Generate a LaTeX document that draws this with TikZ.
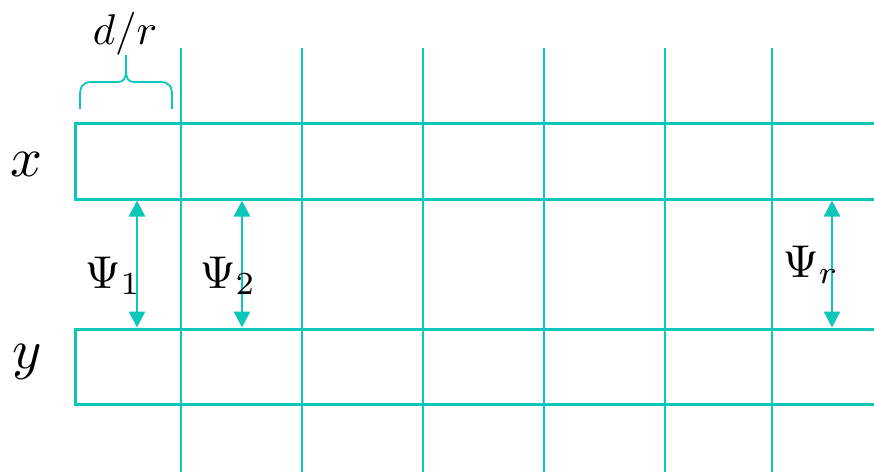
\documentclass[tikz,border=0pt]{standalone}
\usepackage{amsmath}
\usetikzlibrary{arrows.meta}
\definecolor{tealc}{RGB}{14,199,187}
\begin{document}
\begin{tikzpicture}[x=1pt,y=-1pt,
  band/.style={draw=tealc,line width=3pt,line join=miter},
  grid/.style={draw=tealc,line width=2pt},
  gap/.style={draw=tealc,line width=2.5pt,{Triangle[length=16pt,width=16pt]}-{Triangle[length=16pt,width=16pt]}},
  lbl/.style={inner sep=0pt,text=black,transform shape=false}]
\useasboundingbox (0,0) rectangle (874,472);
% grid lines
\foreach \i/\xx in {1/181,2/302,3/423,4/544,5/665,6/772}{
  \coordinate (t\i) at (\xx,48);
  \coordinate (b\i) at (\xx,472);
  \draw[grid] (t\i) -- (b\i);
}
% bands
\coordinate (xa) at (874,123);
\coordinate (xb) at (75,199);
\coordinate (xc) at (874,199);
\coordinate (ya) at (874,329);
\coordinate (yb) at (75,404);
\coordinate (yc) at (874,404);
\draw[band] (xa) -| (xb) -- (xc);
\draw[band] (ya) -| (yb) -- (yc);
% brace
\draw[tealc,line width=1.8pt] (80,109) -- (80,96) .. controls (80,87) and (82,82) .. (92,82)
  -- (118,82) .. controls (124,82) and (126,78) .. (126,70) -- (126,55);
\draw[tealc,line width=1.8pt] (172,109) -- (172,96) .. controls (172,87) and (170,82) .. (160,82)
  -- (134,82) .. controls (128,82) and (126,78) .. (126,70);
% arrows
\coordinate (a1t) at (137,200.5);
\coordinate (a1b) at (137,327.5);
\coordinate (a2t) at (242,200.5);
\coordinate (a2b) at (242,327.5);
\coordinate (a3t) at (832,200.5);
\coordinate (a3b) at (832,327.5);
\draw[gap] (a1t) -- (a1b);
\draw[gap] (a2t) -- (a2b);
\draw[gap] (a3t) -- (a3b);
% labels
\node[lbl,anchor=base,scale=4.3] (dr) at (125,44) {$d/r$};
\node[lbl,anchor=base,scale=5.6] (xl) at (27,176) {$x$};
\node[lbl,anchor=base,scale=5.6] (yl) at (27,368) {$y$};
\node[lbl,anchor=base west,scale=4.6] (p1) at (84,288) {$\Psi_1$};
\node[lbl,anchor=base west,scale=4.6] (p2) at (199,288) {$\Psi_2$};
\node[lbl,anchor=base west,scale=4.6] (p3) at (782,277) {$\Psi_r$};
\end{tikzpicture}
\end{document}
